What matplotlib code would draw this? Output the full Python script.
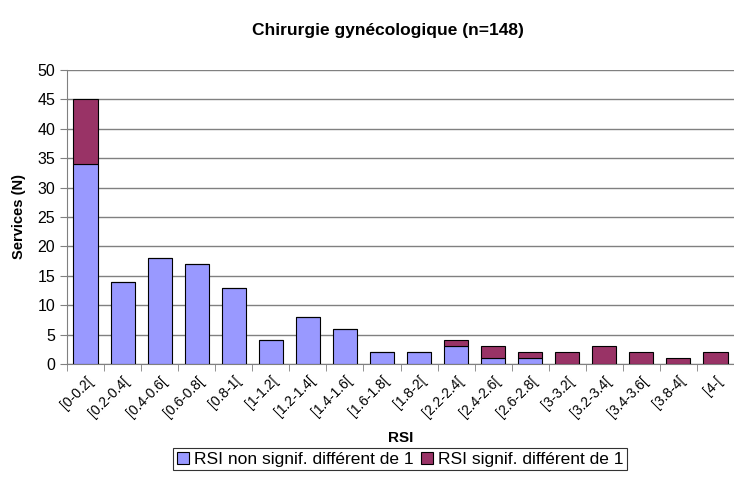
import matplotlib.pyplot as plt
import numpy as np

plt.rcParams['font.family'] = ['Liberation Sans', 'DejaVu Sans']

# données
categories = ['[0-0.2[', '[0.2-0.4[', '[0.4-0.6[', '[0.6-0.8[', '[0.8-1[',
              '[1-1.2[', '[1.2-1.4[', '[1.4-1.6[', '[1.6-1.8[', '[1.8-2[',
              '[2.2-2.4[', '[2.4-2.6[', '[2.6-2.8[', '[3-3.2[', '[3.2-3.4[',
              '[3.4-3.6[', '[3.8-4[', '[4-[']
non_signif = [34, 14, 18, 17, 13, 4, 8, 6, 2, 2, 3, 1, 1, 0, 0, 0, 0, 0]
signif = [11, 0, 0, 0, 0, 0, 0, 0, 0, 0, 1, 2, 1, 2, 3, 2, 1, 2]
y_ticks = [0, 5, 10, 15, 20, 25, 30, 35, 40, 45, 50]

fig = plt.figure(figsize=(7.34, 4.8), dpi=100)
ax = fig.add_axes([0.0913, 0.2417, 0.9087, 0.6125])

x = np.arange(len(categories))
ax.bar(x, non_signif, width=0.65, color='#9999FF', edgecolor='black', linewidth=0.8,
       label='RSI non signif. différent de 1', zorder=3)
ax.bar(x, signif, width=0.65, bottom=non_signif, color='#993366', edgecolor='black',
       linewidth=0.8, label='RSI signif. différent de 1', zorder=3)

ax.set_xlim(-0.5, len(categories) - 0.5)
ax.set_ylim(0, 50)
ax.set_yticks(y_ticks)
ax.yaxis.grid(True, color='#808080', linewidth=1.0, zorder=0)

# graduations entre les catégories (style Excel)
ax.set_xticks(x)
ax.set_xticklabels(categories, rotation=45, ha='right', rotation_mode='anchor', fontsize=10)
ax.tick_params(axis='x', length=0, pad=7)
ax.set_xticks(np.arange(len(categories) + 1) - 0.5, minor=True)
ax.tick_params(axis='x', which='minor', length=5, direction='out', color='#808080')
ax.tick_params(axis='y', length=5, color='#808080', labelsize=11.5)

for s in ['top', 'right']:
    ax.spines[s].set_visible(False)
ax.spines['left'].set_color('#808080')
ax.spines['bottom'].set_color('#808080')

ax.set_ylabel('Services (N)', fontsize=10.5, fontweight='bold', labelpad=8)
ax.set_xlabel('RSI', fontsize=11, fontweight='bold', labelpad=8)
fig.text(0.529, 0.9375, 'Chirurgie gynécologique (n=148)', fontsize=12.5,
         fontweight='bold', ha='center', va='center')

fig.legend(loc='lower center', bbox_to_anchor=(0.545, 0.002), ncol=2, fontsize=12.5,
           frameon=True, fancybox=False, edgecolor='black', handlelength=0.7,
           handleheight=0.7, handletextpad=0.3, columnspacing=0.4, borderpad=0.2)
leg = fig.legends[0]
leg.get_frame().set_linewidth(0.8)

plt.savefig('out.png', dpi=100)
